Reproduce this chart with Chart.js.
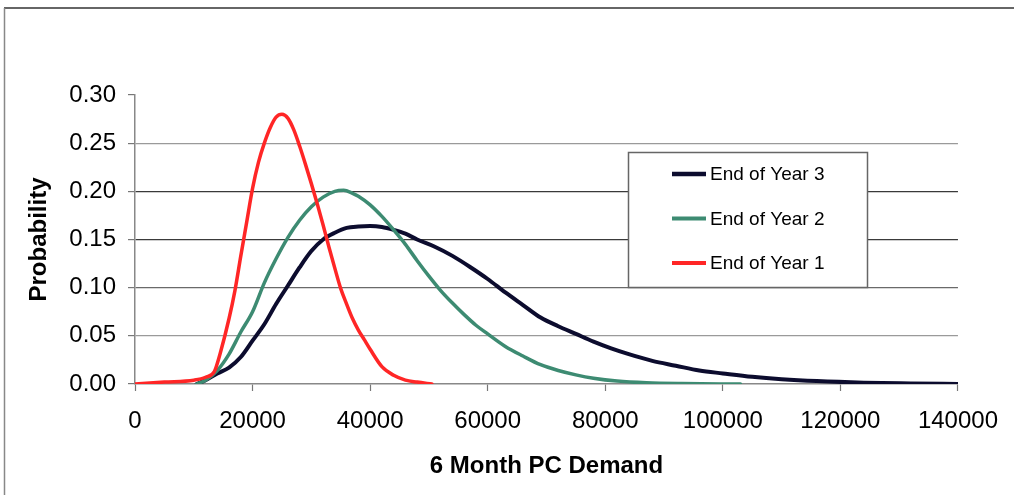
<!DOCTYPE html>
<html>
<head>
<meta charset="utf-8">
<script src="https://cdn.jsdelivr.net/npm/chart.js@4"></script>
<style>
  html, body { margin: 0; padding: 0; background: #fff; }
  #wrap { width: 1014px; height: 495px; position: relative; }
</style>
</head>
<body>
<div id="wrap"><canvas id="demand-chart"></canvas></div>
<script>
/* ==================================== */
/*               Data                   */
/* ==================================== */
const xTicks = [0, 20000, 40000, 60000, 80000, 100000, 120000, 140000];
const yTicks = [0, 0.05, 0.1, 0.15, 0.2, 0.25, 0.3];

const year3Demand = [10500, 12000, 14000, 16000, 18000, 20000, 22000, 24000, 26000, 28000, 30000, 32000, 34000, 36000, 38000, 40000, 42000, 44000, 46000, 48000, 51000, 54000, 57000, 60000, 63000, 66000, 69000, 72000, 75000, 78000, 81000, 84000, 88000, 92000, 96000, 100000, 105000, 110000, 116000, 124000, 132000, 140000];
const year3Prob = [0, 0.004, 0.011, 0.017, 0.028, 0.045, 0.062, 0.083, 0.102, 0.121, 0.138, 0.150, 0.157, 0.162, 0.1635, 0.164, 0.163, 0.160, 0.156, 0.150, 0.1425, 0.133, 0.1215, 0.109, 0.095, 0.082, 0.069, 0.060, 0.052, 0.044, 0.037, 0.031, 0.024, 0.019, 0.014, 0.011, 0.0075, 0.005, 0.003, 0.0014, 0.0006, 0];

const year2Demand = [10500, 12000, 14000, 16000, 18000, 20000, 22000, 24000, 26000, 28000, 30000, 32000, 34000, 35500, 37000, 38000, 40000, 42000, 44000, 46000, 48000, 50000, 52000, 54000, 56000, 58000, 60000, 63000, 66000, 69000, 72000, 75000, 78000, 82000, 87000, 93000, 103000];
const year2Prob = [0, 0.004, 0.014, 0.031, 0.054, 0.075, 0.105, 0.130, 0.152, 0.170, 0.184, 0.194, 0.200, 0.201, 0.198, 0.195, 0.186, 0.174, 0.160, 0.145, 0.128, 0.112, 0.097, 0.084, 0.072, 0.061, 0.052, 0.039, 0.029, 0.020, 0.014, 0.0095, 0.006, 0.003, 0.0012, 0.0004, 0];

const year1Demand = [0, 5000, 10000, 12000, 13500, 14500, 16000, 17000, 18000, 19000, 20000, 21000, 22000, 23000, 24000, 25000, 26000, 27000, 28000, 29000, 30000, 31000, 32000, 33000, 34000, 35000, 36000, 37000, 38000, 39000, 40000, 42000, 44000, 46000, 48000, 50500];
const year1Prob = [0, 0.002, 0.004, 0.007, 0.013, 0.032, 0.068, 0.097, 0.133, 0.168, 0.203, 0.230, 0.250, 0.266, 0.277, 0.280, 0.276, 0.264, 0.247, 0.228, 0.208, 0.187, 0.165, 0.142, 0.120, 0.099, 0.083, 0.068, 0.056, 0.046, 0.036, 0.018, 0.009, 0.004, 0.002, 0];

const seriesNames = ["End of Year 3", "End of Year 2", "End of Year 1"];
const seriesColors = ["#0c0c2e", "#3d8b72", "#ff2626"];

function toPoints(xs, ys) {
  return xs.map((x, i) => ({ x: x, y: ys[i] }));
}

/* ==================================== */
/*          Frame + Legend              */
/* ==================================== */
const framePlugin = {
  id: "frame",
  beforeDraw(chart) {
    const ctx = chart.ctx;
    ctx.save();
    ctx.fillStyle = "#fff";
    ctx.fillRect(0, 0, chart.width, chart.height);
    ctx.strokeStyle = "#666";
    ctx.lineWidth = 2;
    ctx.beginPath();
    ctx.moveTo(4, 8);
    ctx.lineTo(chart.width, 8);
    ctx.stroke();
    ctx.strokeStyle = "#888";
    ctx.lineWidth = 1.5;
    ctx.beginPath();
    ctx.moveTo(4.5, 8);
    ctx.lineTo(4.5, chart.height);
    ctx.stroke();
    ctx.restore();
  },
};

const boxLegend = {
  id: "boxLegend",
  afterDraw(chart) {
    const ctx = chart.ctx;
    ctx.save();
    ctx.fillStyle = "#fff";
    ctx.fillRect(628, 152, 239, 135);
    ctx.strokeStyle = "#666";
    ctx.lineWidth = 1.5;
    ctx.strokeRect(628.5, 152.5, 239, 135);
    ctx.font = "19px 'Liberation Sans', Arial, sans-serif";
    ctx.textBaseline = "middle";
    ctx.fillStyle = "#000";
    chart.data.datasets.forEach((ds, i) => {
      const y = 174 + i * 44.5;
      ctx.strokeStyle = ds.borderColor;
      ctx.lineWidth = ds.borderWidth + 0.5;
      ctx.beginPath();
      ctx.moveTo(672, y);
      ctx.lineTo(706, y);
      ctx.stroke();
      ctx.fillText(ds.label, 710, y + 1);
    });
    ctx.restore();
  },
};

/* ==================================== */
/*               Chart                  */
/* ==================================== */
const gridShade = (v) => {
  const r = Math.round(v * 100);
  if (r === 0 || r === 30) return "rgba(0,0,0,0)";
  if (r === 15 || r === 20) return "#3a3a3a";
  if (r === 10) return "#6a6a6a";
  return "#9a9a9a";
};

const demandChart = new Chart(document.querySelector("#demand-chart"), {
  type: "line",
  data: {
    datasets: [
      {
        label: seriesNames[0],
        data: toPoints(year3Demand, year3Prob),
        borderColor: seriesColors[0],
        borderWidth: 4,
        order: 3,
      },
      {
        label: seriesNames[1],
        data: toPoints(year2Demand, year2Prob),
        borderColor: seriesColors[1],
        borderWidth: 3.5,
        order: 2,
      },
      {
        label: seriesNames[2],
        data: toPoints(year1Demand, year1Prob),
        borderColor: seriesColors[2],
        borderWidth: 3.5,
        order: 1,
      },
    ],
  },
  options: {
    responsive: true,
    maintainAspectRatio: false,
    animation: false,
    layout: { padding: { top: 95, right: 56, bottom: 0, left: 0 } },
    elements: {
      point: { radius: 0 },
      line: { tension: 0.4, cubicInterpolationMode: "monotone", fill: false, borderCapStyle: "round", borderJoinStyle: "round" },
    },
    plugins: {
      legend: { display: false },
      tooltip: { enabled: false },
    },
    scales: {
      x: {
        type: "linear",
        min: xTicks[0],
        max: xTicks[xTicks.length - 1],
        afterBuildTicks: (scale) => { scale.ticks = xTicks.map((v) => ({ value: v })); },
        afterFit: (scale) => { scale.height = 111; },
        ticks: {
          font: { family: "'Liberation Sans', Arial", size: 24 },
          color: "#000",
          padding: 16,
          maxRotation: 0,
          autoSkip: false,
          callback: (v) => String(v),
        },
        grid: { drawOnChartArea: false, tickLength: 7, tickColor: "#777", tickWidth: 1.2 },
        border: { color: "#888", width: 1.5 },
        title: {
          display: true,
          text: "6 Month PC Demand",
          font: { family: "'Liberation Sans', Arial", size: 24, weight: "bold" },
          color: "#000",
          padding: { top: 0, bottom: 14 },
        },
      },
      y: {
        min: yTicks[0],
        max: yTicks[yTicks.length - 1],
        afterBuildTicks: (scale) => { scale.ticks = yTicks.map((v) => ({ value: v })); },
        afterFit: (scale) => { scale.width = 135; },
        ticks: {
          font: { family: "'Liberation Sans', Arial", size: 24 },
          color: "#000",
          padding: 12,
          callback: (v) => v.toFixed(2),
        },
        grid: {
          color: (c) => gridShade(c.tick ? c.tick.value : 0),
          lineWidth: 1.2,
          tickLength: 7,
          tickColor: "#777",
        },
        border: { color: "#888", width: 1.5 },
        title: {
          display: true,
          text: "Probability",
          font: { family: "'Liberation Sans', Arial", size: 24, weight: "bold" },
          color: "#000",
          padding: { top: 25, bottom: 0 },
        },
      },
    },
  },
  plugins: [framePlugin, boxLegend],
});
</script>
</body>
</html>
